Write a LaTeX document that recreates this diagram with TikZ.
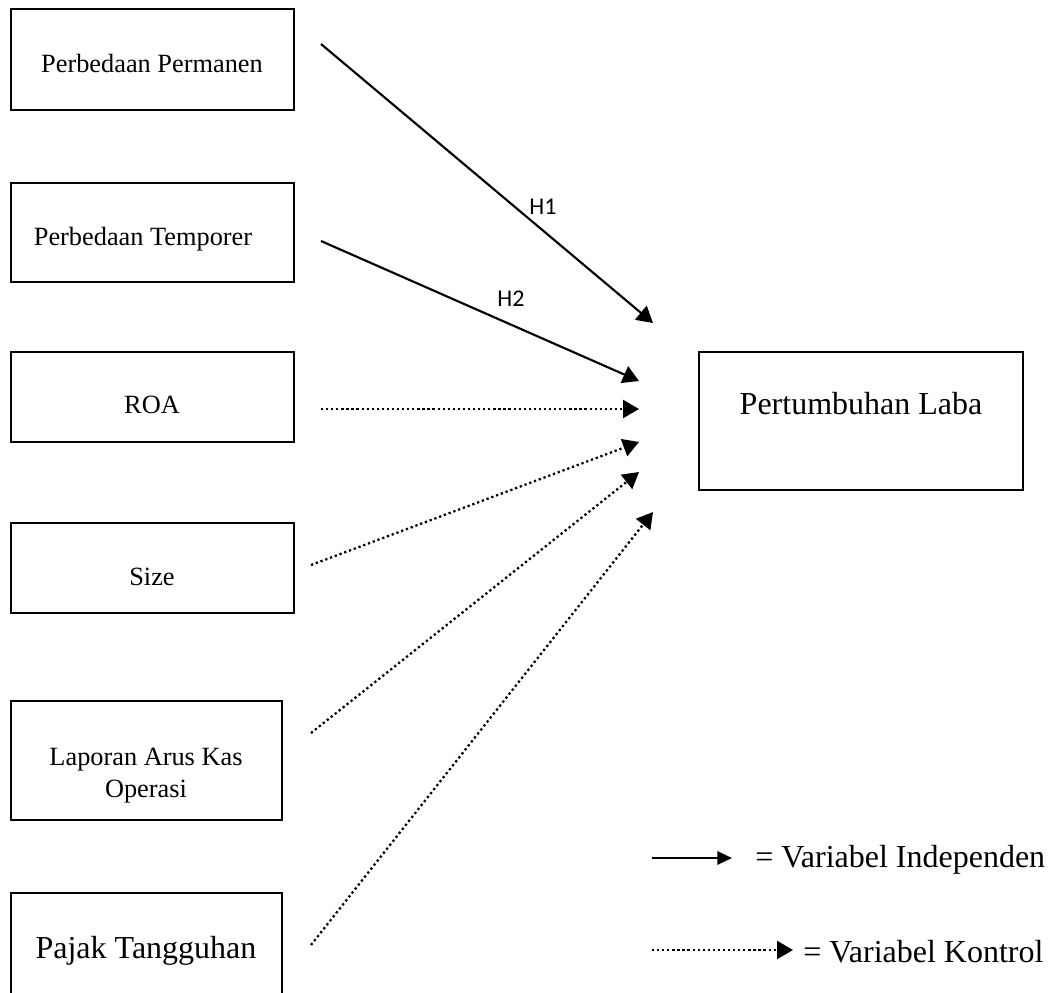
\documentclass[tikz,border=0pt]{standalone}
\usepackage{fontspec}
\setmainfont{Liberation Serif}
\newfontfamily\calibrifont{Carlito}
\usetikzlibrary{arrows.meta}
\begin{document}
\begin{tikzpicture}[x=0.75pt,y=-0.75pt,
  box/.style={draw, line width=1.25pt, rectangle, inner sep=0pt},
  small/.style={font=\fontsize{19.75pt}{24pt}\selectfont, inner sep=0pt},
  big/.style={font=\fontsize{24pt}{29pt}\selectfont, inner sep=0pt},
  hlab/.style={font=\calibrifont\fontsize{18pt}{22pt}\selectfont, inner sep=0pt},
  solidarrow/.style={line width=1.6pt, -{Triangle[length=12pt,width=13.5pt]}},
  dotarrow/.style={line width=1.7pt, dash pattern=on 1.7pt off 2.1pt, -{Triangle[length=12pt,width=13.5pt]}},
]
\useasboundingbox (0,0) rectangle (1054,993);
\clip (0,0) rectangle (1054,993);

% boxes
\node[box, minimum width=212.25pt, minimum height=75.75pt] (b1) at (152.5,59.5) {};
\node[box, minimum width=212.25pt, minimum height=74.25pt] (b2) at (152.5,232.5) {};
\node[box, minimum width=212.25pt, minimum height=67.5pt] (b3) at (152.5,397) {};
\node[box, minimum width=212.25pt, minimum height=67.5pt] (b4) at (152.5,568) {};
\node[box, minimum width=203.25pt, minimum height=89.25pt] (b5) at (146.5,760.5) {};
\node[box, minimum width=203.25pt, minimum height=90pt] (b6) at (146.5,953) {};
\node[box, minimum width=243pt, minimum height=103.5pt] (tgt) at (861,421) {};

% texts
\node[small, anchor=base] (t1) at (152,72) {Perbedaan Permanen};
\node[small, anchor=base] (t2) at (143,245) {Perbedaan Temporer};
\node[small, anchor=base] (t3) at (152,413) {ROA};
\node[small, anchor=base] (t4) at (152,585) {Size};
\node[small, align=center] (t5) at (146,776) {Laporan Arus Kas\\Operasi};
\node[big, anchor=base] (t6) at (146,958) {Pajak Tangguhan};
\node[big, anchor=base] (tt) at (861,414) {Pertumbuhan Laba};

% arrow end points
\coordinate (s1) at (321,44);  \coordinate (e1) at (653,323);
\coordinate (s2) at (321,241); \coordinate (e2) at (639,381);
\coordinate (s3) at (321,409); \coordinate (e3) at (639,409);
\coordinate (s4) at (311,565); \coordinate (e4) at (639,442);
\coordinate (s5) at (311,733); \coordinate (e5) at (639,472);
\coordinate (s6) at (311,945); \coordinate (e6) at (653,512);

\draw[solidarrow] (s1) -- (e1);
\draw[solidarrow] (s2) -- (e2);
\draw[dotarrow] (s3) -- (e3);
\draw[dotarrow] (s4) -- (e4);
\draw[dotarrow] (s5) -- (e5);
\draw[dotarrow] (s6) -- (e6);

\node[hlab, anchor=base] (h1) at (543,214) {H1};
\node[hlab, anchor=base] (h2) at (511,306) {H2};

% legend
\coordinate (l1s) at (652,858); \coordinate (l1e) at (732,858);
\draw[line width=1.6pt, -{Triangle[length=11pt,width=10pt]}] (l1s) -- (l1e);
\node[big, anchor=base west] (lg1) at (755,867) {= Variabel Independen};
\coordinate (l2s) at (652,950); \coordinate (l2e) at (793,950);
\draw[dotarrow] (l2s) -- (l2e);
\node[big, anchor=base west] (lg2) at (803,962) {= Variabel Kontrol};
\end{tikzpicture}
\end{document}
